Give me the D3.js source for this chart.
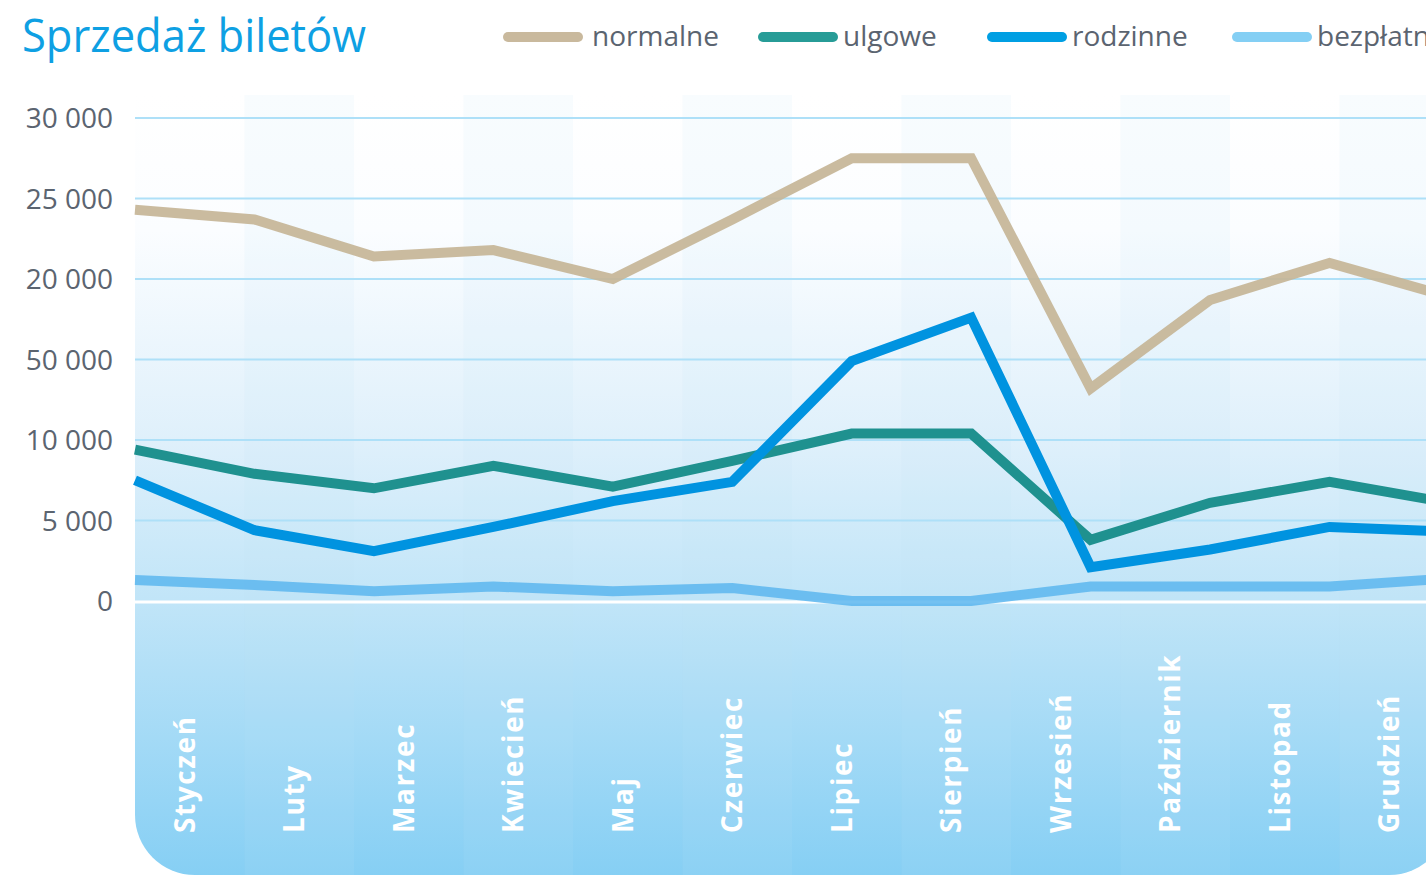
<!DOCTYPE html>
<html>
<head>
<meta charset="utf-8">
<script src="https://cdn.jsdelivr.net/npm/d3@7"></script>
<style>
  html, body { margin: 0; padding: 0; background: #fff; overflow: hidden; }
  svg { display: block; font-family: "Open Sans", sans-serif; }
</style>
</head>
<body>
<svg class="chart" width="1426" height="875"></svg>
<script>
var months = ["Styczeń", "Luty", "Marzec", "Kwiecień", "Maj", "Czerwiec",
  "Lipiec", "Sierpień", "Wrzesień", "Październik", "Listopad", "Grudzień"];

var normalne  = [24300, 23700, 21400, 21800, 20000, 23700, 27500, 27500, 13200, 18700, 21000, 18900];
var ulgowe    = [9400, 7900, 7000, 8400, 7100, 8700, 10400, 10400, 3800, 6100, 7400, 6100];
var rodzinne  = [7500, 4400, 3100, 4600, 6200, 7400, 14900, 17600, 2100, 3200, 4600, 4300];
var bezplatne = [1300, 1000, 600, 900, 600, 800, 0, 0, 900, 900, 900, 1400];

var seriesNames = ["normalne", "ulgowe", "rodzinne", "bezpłatne"];
var seriesColours = ["#c6b597", "#1f918f", "#0093e0", "#5cb6ee"];
var legendColours = ["#c9b99d", "#279c97", "#009fe3", "#84cff4"];

var yTicks = [0, 5000, 10000, 15000, 20000, 25000, 30000];
var yTickLabels = ["0", "5 000", "10 000", "50 000", "20 000", "25 000", "30 000"];

(function () {
  var svg = d3.select(".chart");
  var left = 135, right = 1449, top = 95, bottom = 875;

  var x = d3.scalePoint().domain(months).range([left, right]);
  var band = d3.scaleBand().domain(months).range([left, right]);
  var y = d3.scaleLinear().domain([0, 30000]).range([601, 118]);

  var defs = svg.append("defs");
  var grad = defs.append("linearGradient")
      .attr("id", "panelGrad")
      .attr("gradientUnits", "userSpaceOnUse")
      .attr("x1", 0).attr("x2", 0).attr("y1", top).attr("y2", bottom);
  [[top, "#ffffff"], [230, "#fbfdff"], [440, "#dff0fb"], [600, "#c1e5f8"], [bottom, "#86cff4"]]
    .forEach(function (s) {
      grad.append("stop")
        .attr("offset", (s[0] - top) / (bottom - top))
        .attr("stop-color", s[1]);
    });

  var r = 60;
  var panelPath = "M" + left + "," + top +
    " H" + right +
    " V" + (bottom - r) +
    " A" + r + "," + r + " 0 0 1 " + (right - r) + "," + bottom +
    " H" + (left + r) +
    " A" + r + "," + r + " 0 0 1 " + left + "," + (bottom - r) + " Z";

  defs.append("clipPath").attr("id", "panelClip")
    .append("path").attr("d", panelPath);

  svg.append("path").attr("d", panelPath).attr("fill", "url(#panelGrad)");

  // alternating column stripes
  svg.append("g")
      .attr("clip-path", "url(#panelClip)")
    .selectAll("rect")
    .data(months.filter(function (d, i) { return i % 2 === 1; }))
    .enter().append("rect")
      .attr("x", function (d) { return band(d); })
      .attr("y", top)
      .attr("width", band.bandwidth())
      .attr("height", bottom - top)
      .attr("fill", "#bfe2f7")
      .attr("opacity", 0.11);

  // gridlines
  svg.append("g")
    .selectAll("line")
    .data(yTicks.filter(function (d) { return d > 0; }))
    .enter().append("line")
      .attr("x1", left).attr("x2", 1426)
      .attr("y1", function (d) { return y(d); })
      .attr("y2", function (d) { return y(d); })
      .attr("stroke", "#aee0f8")
      .attr("stroke-width", 2);

  svg.append("line")
    .attr("x1", left).attr("x2", 1426)
    .attr("y1", y(0) + 1).attr("y2", y(0) + 1)
    .attr("stroke", "#ffffff")
    .attr("stroke-width", 3);

  // y labels
  svg.append("g")
    .selectAll("text")
    .data(yTicks)
    .enter().append("text")
      .attr("x", 113)
      .attr("y", function (d) { return y(d); })
      .attr("dy", "0.36em")
      .attr("text-anchor", "end")
      .attr("font-size", 28)
      .attr("fill", "#5b6470")
      .text(function (d, i) { return yTickLabels[i]; });

  // lines
  var line = d3.line()
    .x(function (d, i) { return x(months[i]); })
    .y(function (d) { return y(d); });

  var allSeries = [normalne, ulgowe, rodzinne, bezplatne];
  var opac = [0.92, 1, 1, 0.85];
  var order = [3, 0, 1, 2];
  order.forEach(function (k) {
    svg.append("path")
      .datum(allSeries[k])
      .attr("d", line)
      .attr("fill", "none")
      .attr("stroke", seriesColours[k])
      .attr("stroke-width", 10)
      .attr("stroke-linejoin", "miter")
      .attr("opacity", opac[k]);
  });

  // month labels
  svg.append("g")
    .selectAll("text")
    .data(months)
    .enter().append("text")
      .attr("transform", function (d) {
        return "translate(" + (band(d) + band.bandwidth() / 2 - 5) + ",833) rotate(-90)";
      })
      .attr("dy", "0.36em")
      .attr("text-anchor", "start")
      .attr("font-size", 28)
      .attr("font-weight", 700)
      .attr("letter-spacing", 1.6)
      .attr("fill", "#ffffff")
      .text(function (d) { return d; });

  // title
  svg.append("text")
    .attr("x", 22)
    .attr("y", 52)
    .attr("font-size", 46)
    .attr("fill", "#0ea0e3")
    .attr("textLength", 344)
    .attr("lengthAdjust", "spacingAndGlyphs")
    .text("Sprzedaż biletów");

  // legend
  var legendX = [503, 758, 987, 1232];
  var legend = svg.append("g")
    .selectAll("g")
    .data(seriesNames)
    .enter().append("g")
      .attr("transform", function (d, i) { return "translate(" + legendX[i] + ",37)"; });

  legend.append("line")
    .attr("x1", 5).attr("x2", 75)
    .attr("y1", 0).attr("y2", 0)
    .attr("stroke", function (d, i) { return legendColours[i]; })
    .attr("stroke-width", 10)
    .attr("stroke-linecap", "round");

  legend.append("text")
    .attr("x", function (d, i) { return i === 0 ? 89 : 85; })
    .attr("y", 0)
    .attr("dy", "0.33em")
    .attr("font-size", 28)
    .attr("fill", "#5b6470")
    .text(function (d) { return d; });
})();
</script>
</body>
</html>
